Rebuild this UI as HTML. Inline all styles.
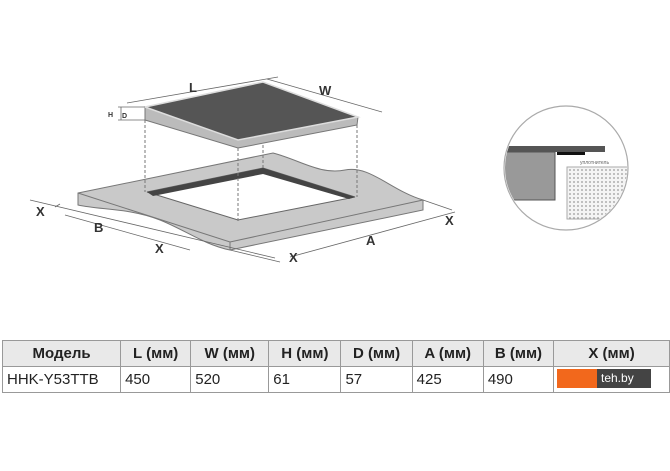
<!DOCTYPE html>
<html><head><meta charset="utf-8"><style>
body{margin:0;width:670px;height:471px;background:#fff;overflow:hidden;font-family:"Liberation Sans",Arial,sans-serif;position:relative}
svg{position:absolute;left:0;top:0}
table{position:absolute;left:2px;top:340px;border-collapse:collapse;font-size:15px;color:#222}
td{border:1px solid #999;height:25px;padding:0 4px;white-space:nowrap}
tr.h td{background:#e9e9e9;font-weight:bold;text-align:center}
</style></head><body>
<svg width="670" height="471" viewBox="0 0 670 471">
<defs><pattern id="dot" width="4" height="4" patternUnits="userSpaceOnUse"><rect width="4" height="4" fill="#f4f4f4"/><circle cx="2" cy="2" r="0.9" fill="#999"/></pattern></defs>
<!-- countertop -->
<path d="M78,193 L273,153 C300,160 320,175 345,170 C370,165 390,190 423,200 L423,210 L230,250 C205,245 185,230 160,220 C130,208 100,210 78,205 Z" fill="#c9c9c9" stroke="#777" stroke-width="1"/>
<path d="M78,193 L230,242 L423,200" fill="none" stroke="#777"/>
<path d="M230,242 L230,250" stroke="#777"/>
<!-- hole -->
<path d="M147,192 L263,168 L355,197 L238,220 Z" fill="#fff" stroke="#666"/>
<path d="M147,192 L263,168 L355,197 L349,199 L263,174 L153,196 Z" fill="#444"/>
<!-- dashed -->
<g stroke="#777" stroke-dasharray="3,2" fill="none">
<line x1="145" y1="120" x2="145" y2="192"/><line x1="238" y1="148" x2="238" y2="222"/>
<line x1="263" y1="135" x2="263" y2="168"/><line x1="357" y1="125" x2="357" y2="197"/>
</g>
<!-- hob -->
<path d="M145,107 L238,140 L358,117 L357,125 L238,148 L145,120 Z" fill="#bbb" stroke="#777"/>
<path d="M145,107 L263,82 L358,117 L238,140 Z" fill="#555" stroke="#ddd" stroke-width="1.5"/>
<!-- dims -->
<g stroke="#666" stroke-width="0.8" fill="none">
<line x1="127" y1="103" x2="278" y2="77"/><line x1="267" y1="79" x2="382" y2="112"/>
<line x1="118" y1="107" x2="145" y2="107"/><line x1="118" y1="120" x2="145" y2="120"/><line x1="121" y1="107" x2="121" y2="120"/>
<line x1="30" y1="200" x2="275" y2="258"/><line x1="55" y1="207" x2="60" y2="204"/>
<line x1="290" y1="257" x2="455" y2="212"/><line x1="423" y1="200" x2="452" y2="210"/>
<line x1="65" y1="215" x2="190" y2="250"/><line x1="230" y1="250" x2="280" y2="262"/>
</g>
<g font-weight="bold" font-size="13" fill="#333">
<text x="189" y="92">L</text><text x="319" y="95">W</text>
<text x="36" y="216">X</text><text x="94" y="232">B</text><text x="155" y="253">X</text>
<text x="289" y="262">X</text><text x="366" y="245">A</text><text x="445" y="225">X</text>
<text x="108" y="117" font-size="7">H</text><text x="122" y="118" font-size="7">D</text>
</g>
<!-- detail circle -->
<circle cx="566" cy="168" r="62" fill="#fff" stroke="#aaa" stroke-width="1.2"/>
<clipPath id="c"><circle cx="566" cy="168" r="61"/></clipPath>
<g clip-path="url(#c)">
<rect x="500" y="146" width="105" height="6" fill="#555"/>
<rect x="557" y="152" width="28" height="3" fill="#111"/>
<rect x="500" y="152" width="55" height="48" fill="#999" stroke="#555"/>
<rect x="567" y="167" width="65" height="52" fill="url(#dot)" stroke="#aaa"/>
<text x="580" y="164" font-size="5" fill="#666">уплотнитель</text>
</g>
</svg>
<table>
<tr class="h"><td style="width:110px">Модель</td><td style="width:62px">L (мм)</td><td style="width:70px">W (мм)</td><td style="width:64px">H (мм)</td><td style="width:63px">D (мм)</td><td style="width:63px">A (мм)</td><td style="width:62px">B (мм)</td><td style="width:110px">X (мм)</td></tr>
<tr><td>HHK-Y53TTB</td><td>450</td><td>520</td><td>61</td><td>57</td><td>425</td><td>490</td><td></td></tr>
</table>
<div style="position:absolute;left:557px;top:369px;width:40px;height:19px;background:#f2681c"></div>
<div style="position:absolute;left:597px;top:369px;width:50px;height:19px;background:#444;color:#fff;font-size:12px;line-height:19px;padding-left:4px">teh.by</div>
</body></html>
